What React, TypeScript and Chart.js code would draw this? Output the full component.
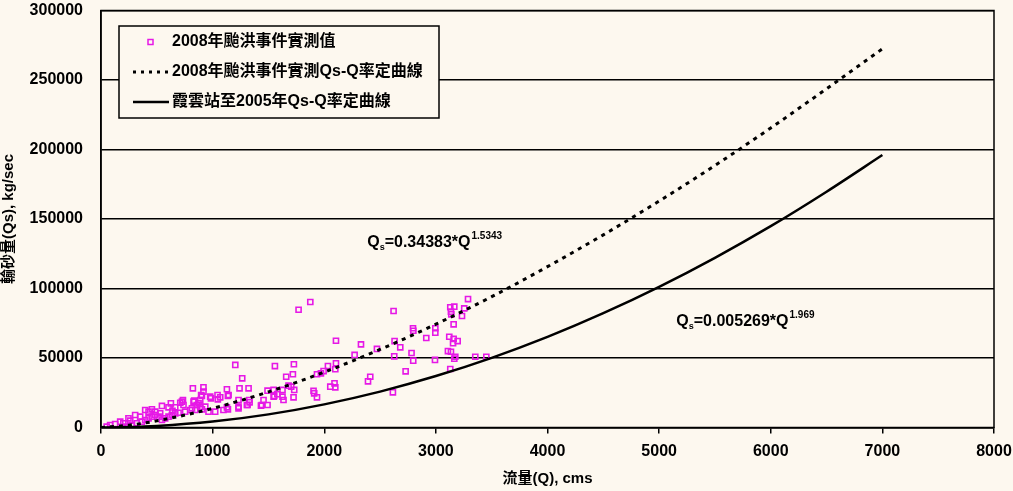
import React, { useEffect, useRef } from "react";
import { Chart, registerables } from "chart.js";

Chart.register(...registerables);

// ---------- data ----------
const obsQ = [
  51, 82, 127, 172, 200, 217, 246, 262, 277, 306, 321, 351, 366, 396, 396, 426, 426, 456, 456, 486,
  486, 516, 530, 546, 546, 575, 605, 605, 626, 640, 635, 665, 665, 695, 710, 725, 734, 739, 754, 799,
  815, 823, 829, 835, 844, 859, 874, 889, 889, 897, 904, 904, 918, 918, 934, 963, 978, 985, 1023, 1044,
  1047, 1068, 1097, 1128, 1128, 1137, 1137, 1143, 1203, 1232, 1232, 1232, 1241, 1265, 1307, 1313, 1322, 1328, 1331, 1433,
  1456, 1441, 1492, 1492, 1546, 1546, 1552, 1558, 1580, 1626, 1626, 1635, 1659, 1680, 1704, 1719, 1725, 1728, 1731, 1770,
  1875, 1904, 1910, 1935, 1935, 1970, 1994, 2033, 2054, 2092, 2099, 2099, 2105, 2105, 2272, 2329, 2392, 2412, 2472, 2615,
  2621, 2627, 2630, 2681, 2729, 2782, 2795, 2797, 2798, 2914, 2992, 2995, 2995, 3108, 3120, 3129, 3129, 3135, 3135, 3138,
  3154, 3159, 3159, 3165, 3165, 3174, 3195, 3234, 3254, 3288, 3353, 3452,
];
const obsQs = [
  600, 1800, 2500, 4200, 3000, 600, 6600, 4900, 1800, 9000, 3000, 7800, 4200, 12600, 5400, 11400, 6600, 13100, 7800, 11400,
  9000, 7800, 10200, 5400, 15500, 6600, 7800, 14500, 17400, 12000, 9000, 10200, 14500, 10600, 17800, 18600, 19800, 16200, 11400, 12600,
  13800, 28200, 18600, 19300, 12600, 16200, 17400, 15000, 19800, 23400, 13100, 22700, 28900, 25800, 15000, 11400, 22200, 21000, 11400, 23400,
  20300, 21700, 12600, 14500, 27500, 13100, 22700, 23400, 45000, 15000, 19800, 13800, 28200, 35400, 16200, 16200, 28200, 19800, 18100, 15700,
  19800, 16200, 16200, 26500, 22200, 27000, 22700, 44200, 24000, 27000, 22200, 19800, 36500, 30100, 29400, 38300, 21700, 45500, 27000, 84700,
  90300, 26300, 24600, 21700, 38300, 39000, 40600, 44200, 29400, 31800, 28900, 41900, 46200, 62400, 52200, 59800, 33200, 36500, 56500, 25300,
  83800, 51200, 62200, 57700, 40400, 53600, 71400, 48100, 69600, 64400, 48600, 71400, 68200, 55000, 65300, 86500, 42100, 83300, 54500, 81400,
  60600, 74200, 63700, 86900, 49500, 50900, 62200, 80200, 85700, 92400, 50900, 50900,
];

const curveQ = [0, 250, 500, 1000, 1500, 2000, 2500, 3000, 3500, 4000, 4500, 5000, 5500, 6000, 6500, 7000];
const curve2008Qs = [0, 1640, 4760, 13770, 25650, 39850, 56150, 74300, 94100, 115700, 138600, 162900, 188500, 215500, 243700, 272400];
const curve2005Qs = [0, 280, 1085, 4250, 9450, 16650, 25830, 37020, 50130, 65200, 82250, 101200, 122100, 144850, 169650, 196000];

const seriesNames = [
  "2008年颱洪事件實測值",
  "2008年颱洪事件實測Qs-Q率定曲線",
  "霞雲站至2005年Qs-Q率定曲線",
];
const xTitle = "流量(Q), cms";
const yTitle = "輸砂量(Qs), kg/sec";
const eq2008 = { coef: "=0.34383*Q", exp: "1.5343", q: 2385, qs: 129850 };
const eq2005 = { coef: "=0.005269*Q", exp: "1.969", q: 5154, qs: 73000 };

// ---------- style ----------
const BG = "#FDF8EF";
const MAGENTA = "#E619E6";
const FONT = '"Liberation Sans", Arial, "Noto Sans CJK TC", sans-serif';

const decorPlugin = {
  id: "decor",
  afterDraw(chart: any) {
    const { ctx, chartArea, scales } = chart;
    ctx.save();
    // plot frame
    ctx.strokeStyle = "#000";
    ctx.lineWidth = 1.5;
    ctx.strokeRect(chartArea.left, chartArea.top, chartArea.right - chartArea.left, chartArea.bottom - chartArea.top);

    // equations
    const drawEq = (eq: any) => {
      let x = scales.x.getPixelForValue(eq.q);
      const y = scales.y.getPixelForValue(eq.qs);
      ctx.fillStyle = "#000";
      ctx.textBaseline = "alphabetic";
      ctx.textAlign = "left";
      ctx.font = `bold 16px ${FONT}`;
      ctx.fillText("Q", x, y);
      x += ctx.measureText("Q").width;
      ctx.font = `bold 9px ${FONT}`;
      ctx.fillText("s", x, y + 3);
      x += ctx.measureText("s").width;
      ctx.font = `bold 16px ${FONT}`;
      ctx.fillText(eq.coef, x, y);
      x += ctx.measureText(eq.coef).width + 1;
      ctx.font = `bold 10px ${FONT}`;
      ctx.fillText(eq.exp, x, y - 8);
    };
    drawEq(eq2008);
    drawEq(eq2005);

    // legend
    const lx = chartArea.left + 18;
    const ly = chartArea.top + 15.5;
    const lw = 320;
    const lh = 92;
    ctx.fillStyle = BG;
    ctx.fillRect(lx, ly, lw, lh);
    ctx.strokeStyle = "#000";
    ctx.lineWidth = 1.5;
    ctx.strokeRect(lx, ly, lw, lh);
    const rows = [ly + 16, ly + 46, ly + 76];
    // marker
    ctx.strokeStyle = MAGENTA;
    ctx.lineWidth = 1.5;
    ctx.strokeRect(lx + 29, rows[0] - 2.5, 5, 5);
    // dotted
    ctx.strokeStyle = "#000";
    ctx.lineWidth = 3;
    ctx.setLineDash([3, 5]);
    ctx.beginPath();
    ctx.moveTo(lx + 14, rows[1]);
    ctx.lineTo(lx + 50, rows[1]);
    ctx.stroke();
    ctx.setLineDash([]);
    ctx.lineWidth = 2.5;
    ctx.beginPath();
    ctx.moveTo(lx + 14, rows[2]);
    ctx.lineTo(lx + 50, rows[2]);
    ctx.stroke();
    ctx.fillStyle = "#000";
    ctx.font = `bold 16px ${FONT}`;
    ctx.textBaseline = "middle";
    ctx.textAlign = "left";
    seriesNames.forEach((n, i) => ctx.fillText(n, lx + 53, rows[i]));
    ctx.restore();
  },
};

export default function App() {
  const ref = useRef<HTMLCanvasElement | null>(null);

  useEffect(() => {
    if (!ref.current) return;
    const chart = new Chart(ref.current, {
      type: "scatter",
      data: {
        datasets: [
          {
            label: seriesNames[0],
            data: obsQ.map((q, i) => ({ x: q, y: obsQs[i] })),
            pointStyle: "rect",
            pointRadius: 3.6,
            pointBorderWidth: 1.6,
            borderColor: MAGENTA,
            backgroundColor: "rgba(0,0,0,0)",
            order: 3,
          } as any,
          {
            type: "line",
            label: seriesNames[1],
            data: curveQ.map((q, i) => ({ x: q, y: curve2008Qs[i] })),
            borderColor: "#000",
            borderWidth: 3,
            borderDash: [4, 5],
            pointRadius: 0,
            cubicInterpolationMode: "monotone",
            fill: false,
            order: 1,
          } as any,
          {
            type: "line",
            label: seriesNames[2],
            data: curveQ.map((q, i) => ({ x: q, y: curve2005Qs[i] })),
            borderColor: "#000",
            borderWidth: 2.5,
            pointRadius: 0,
            cubicInterpolationMode: "monotone",
            fill: false,
            order: 2,
          } as any,
        ],
      },
      options: {
        animation: false,
        responsive: false,
        layout: { padding: { left: 0, right: 19, top: 10.5, bottom: 0 } },
        plugins: {
          legend: { display: false },
          tooltip: { enabled: false },
        },
        scales: {
          x: {
            type: "linear",
            min: 0,
            max: 8000,
            afterFit: (s: any) => {
              s.height = 63.5;
              s.paddingLeft = 0;
              s.paddingRight = 0;
            },
            ticks: {
              stepSize: 1000,
              color: "#000",
              padding: 8,
              font: { family: FONT, size: 16, weight: "bold" },
              callback: (v: any) => String(v),
              maxRotation: 0,
            },
            grid: {
              drawOnChartArea: false,
              drawTicks: true,
              tickLength: 6,
              color: "#000",
              lineWidth: 1.5,
            },
            border: { display: true, color: "#000", width: 1.5 },
            title: {
              display: true,
              text: xTitle,
              color: "#000",
              font: { family: FONT, size: 15, weight: "bold" },
              padding: { top: 0, bottom: 3 },
            },
          },
          y: {
            type: "linear",
            min: 0,
            max: 300000,
            afterFit: (s: any) => {
              s.width = 101;
              s.paddingTop = 0;
              s.paddingBottom = 0;
            },
            ticks: {
              stepSize: 50000,
              color: "#000",
              padding: 18,
              font: { family: FONT, size: 16, weight: "bold" },
              callback: (v: any) => String(v),
            },
            grid: {
              drawTicks: false,
              color: "#000",
              lineWidth: 1.5,
            },
            border: { display: true, color: "#000", width: 1.5 },
            title: {
              display: true,
              text: yTitle,
              color: "#000",
              font: { family: FONT, size: 15, weight: "bold" },
              padding: { top: 0, bottom: 0 },
            },
          },
        },
      },
      plugins: [decorPlugin],
    });
    return () => chart.destroy();
  }, []);

  return (
    <div style={{ position: "absolute", left: 0, top: 0, width: 1013, height: 491, background: BG }}>
      <canvas ref={ref} width={1013} height={491} />
    </div>
  );
}
